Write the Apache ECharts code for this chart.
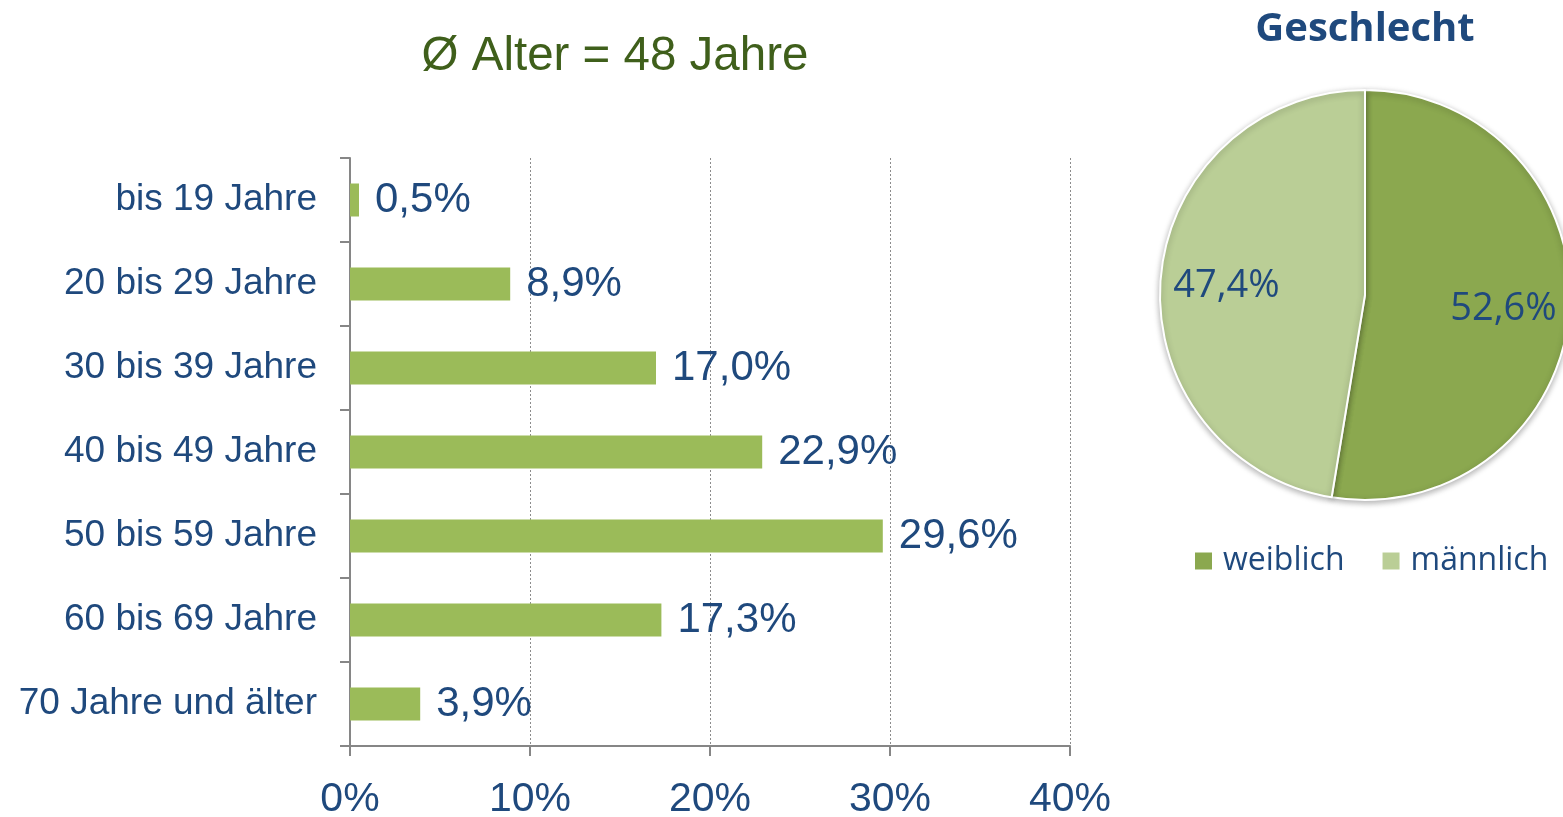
<!DOCTYPE html>
<html><head><meta charset="utf-8">
<script src="https://cdn.jsdelivr.net/npm/echarts@6/dist/echarts.min.js"></script>
<style>html,body{margin:0;padding:0;background:#fff}#c{width:1563px;height:817px}</style>
</head><body><div id="c"></div>
<script>
const categories = ['bis 19 Jahre','20 bis 29 Jahre','30 bis 39 Jahre','40 bis 49 Jahre','50 bis 59 Jahre','60 bis 69 Jahre','70 Jahre und älter'];
const ageShares = [0.5, 8.9, 17.0, 22.9, 29.6, 17.3, 3.9];
const xTicks = [0, 10, 20, 30, 40];
const genderNames = ['weiblich','männlich'];
const genderShares = [52.6, 47.4];

const blue = '#1F497D';
const fmt = v => v.toFixed(1).replace('.', ',') + '%';
const chart = echarts.init(document.getElementById('c'));
chart.setOption({
  animation: false,
  title: [
    { text: 'Ø Alter = 48 Jahre', left: 610, textAlign: 'center', top: 28,
      textStyle: { fontFamily: 'Liberation Sans', fontSize: 47.5, fontWeight: 'normal', color: '#3F5F1B' } },
    { text: 'Geschlecht', left: 1360, textAlign: 'center', top: 5,
      textStyle: { fontFamily: 'Open Sans', fontSize: 40, fontWeight: 'bold', color: blue } }
  ],
  grid: { left: 350, right: 493, top: 158, bottom: 71, containLabel: false, outerBoundsMode: 'none' },
  xAxis: {
    type: 'value', min: xTicks[0], max: xTicks[xTicks.length - 1], interval: 10,
    axisLine: { show: true, lineStyle: { color: '#868686', width: 2 } },
    axisTick: { show: true, length: 10, lineStyle: { color: '#868686', width: 2 } },
    splitLine: { show: true, lineStyle: { color: '#8c8c8c', type: [2, 2], width: 1 } },
    axisLabel: { margin: 33, formatter: v => v + '%', fontFamily: 'Liberation Sans', fontSize: 41, color: blue }
  },
  yAxis: {
    type: 'category', data: categories, inverse: true,
    axisLine: { show: true, lineStyle: { color: '#868686', width: 2 } },
    axisTick: { show: true, length: 10, lineStyle: { color: '#868686', width: 2 } },
    axisLabel: { margin: 33, fontFamily: 'Liberation Sans', fontSize: 37, color: blue, padding: [10, 0, 0, 0] }
  },
  legend: {
    data: genderNames, left: 1193, top: 545, padding: 0, itemWidth: 19, itemHeight: 19, itemGap: 36,
    icon: 'rect',
    textStyle: { fontFamily: 'Open Sans', fontSize: 32, color: blue, padding: [0, 0, 0, 5] }
  },
  series: [
    {
      type: 'bar', data: ageShares, barWidth: 33,
      itemStyle: { color: '#9BBB59' },
      label: { show: true, position: 'right', distance: 16, formatter: p => fmt(p.value),
        fontFamily: 'Liberation Sans', fontSize: 42, color: blue, padding: [10, 0, 0, 0] }
    },
    {
      type: 'pie', center: [1365, 295], radius: 205, startAngle: 90, clockwise: true,
      data: genderNames.map((n, i) => ({ name: n, value: genderShares[i] })),
      color: ['#8BA84F', '#BACE96'],
      itemStyle: { borderColor: '#fff', borderWidth: 2, shadowBlur: 6, shadowColor: 'rgba(0,0,0,0.3)', shadowOffsetY: 2 },
      label: { show: false }, labelLine: { show: false }, emphasis: { disabled: true }
    },
    {
      type: 'pie', center: [1365, 298], radius: [67, 205], startAngle: 90, clockwise: true, silent: true,
      data: genderNames.map((n, i) => ({ name: n, value: genderShares[i] })),
      itemStyle: { color: 'rgba(0,0,0,0)', borderWidth: 0 }, legendHoverLink: false,
      label: { show: true, position: 'inside', formatter: p => fmt(p.value),
        fontFamily: 'Open Sans', fontSize: 38, color: blue },
      labelLine: { show: false }, emphasis: { disabled: true }
    }
  ]
});
</script></body></html>
